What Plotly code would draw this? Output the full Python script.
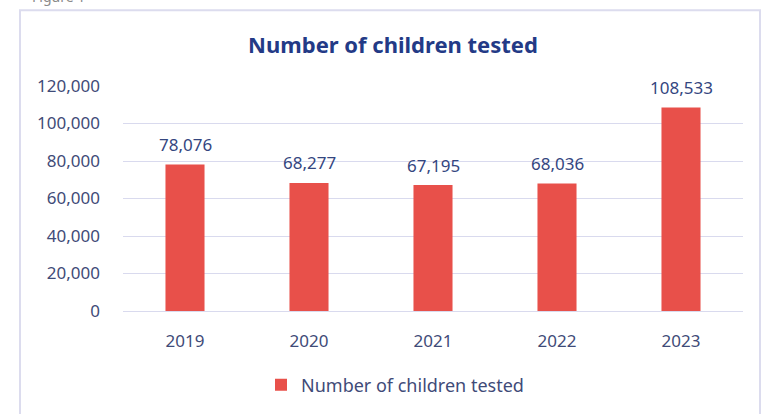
import plotly.graph_objects as go

years = ["2019", "2020", "2021", "2022", "2023"]
tested = [78076, 68277, 67195, 68036, 108533]
y_ticks = [0, 20000, 40000, 60000, 80000, 100000, 120000]
series_name = "Number of children tested"
title_text = "Number of children tested"

W, H = 768, 414
L, R, T, B = 123, 25, 86, 102
pw, ph = W - L - R, H - T - B

def px_x(x):
    return (x - L) / pw

def px_y(y):
    return (H - B - y) / ph

LABEL = "#34467F"
TICK = "#3F4B78"

fig = go.Figure()
fig.add_trace(go.Bar(
    x=years, y=tested, name=series_name,
    marker=dict(color="#E8504A", line=dict(width=0)),
    showlegend=True,
))

# category positions on the category axis are indices 0..n-1
annotations = [dict(x=i, y=v, xref="x", yref="y", text=f"{v:,}", showarrow=False,
                    yanchor="middle", xanchor="center", yshift=20,
                    font=dict(family="Noto Sans", size=17, color=LABEL))
               for i, v in enumerate(tested)]
annotations.append(dict(text="Figure 1", xref="paper", yref="paper", x=px_x(30), y=px_y(-4),
                        xanchor="left", yanchor="middle", showarrow=False,
                        font=dict(family="Noto Sans", size=14, color="#8A8A8A")))

fig.update_layout(
    width=W, height=H,
    margin=dict(l=L, r=R, t=T, b=B),
    paper_bgcolor="white", plot_bgcolor="white",
    bargap=0.685,
    font=dict(family="Noto Sans", size=17, color=TICK),
    title=dict(text="<b>" + title_text + "</b>", x=px_x(393), xanchor="center",
               xref="paper", y=1 - 45 / H, yanchor="middle",
               font=dict(family="Noto Sans", size=22, color="#233A86")),
    xaxis=dict(type="category", range=[-0.5, len(years) - 0.5], showgrid=False, showline=False,
               ticks="", ticklabelstandoff=18, tickfont=dict(size=17, color=TICK)),
    yaxis=dict(range=[0, 120000], tickvals=y_ticks, tickformat=",", showgrid=True,
               gridcolor="#D9DAEE", gridwidth=1, zeroline=True, zerolinecolor="#D9DAEE",
               zerolinewidth=1, ticks="", ticklabelstandoff=22,
               tickfont=dict(size=17, color=TICK)),
    showlegend=True,
    legend=dict(orientation="h", x=px_x(395), xanchor="center", y=px_y(385), yanchor="middle",
                itemwidth=30,
                font=dict(family="Noto Sans", size=18, color=TICK),
                bgcolor="rgba(0,0,0,0)"),
    shapes=[dict(type="rect", xref="paper", yref="paper",
                 x0=px_x(20), x1=px_x(760), y0=px_y(430), y1=px_y(10),
                 line=dict(color="#DCDCEE", width=2), fillcolor="rgba(0,0,0,0)", layer="below")],
    annotations=annotations,
)

fig.write_html("out.html")
